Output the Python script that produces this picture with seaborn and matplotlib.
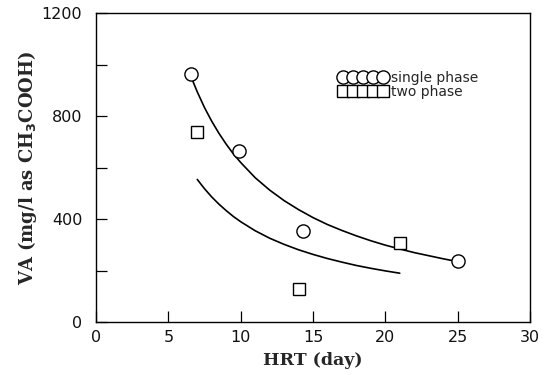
import matplotlib
matplotlib.use("Agg")
import matplotlib.pyplot as plt
import seaborn as sns
import pandas as pd
from matplotlib.ticker import MultipleLocator

# Measured volatile acid concentrations vs hydraulic retention time
single_hrt = [6.6, 9.9, 14.3, 25.0]
single_va = [965, 665, 352, 237]
two_hrt = [7.0, 14.0, 21.0]
two_va = [738, 128, 307]

# Trend curves traced along each data set
single_curve_hrt = [6.7, 7, 7.5, 8, 8.5, 9, 9.5, 10, 11, 12, 13, 14, 15, 16,
                    17, 18, 19, 20, 21, 22, 23, 24, 25]
single_curve_va = [935, 894, 833, 780, 733, 691, 653, 620, 561, 513, 472, 437,
                   406, 379, 356, 335, 316, 299, 284, 270, 258, 246, 235]
two_curve_hrt = [7, 7.5, 8, 8.5, 9, 9.5, 10, 11, 12, 13, 14, 15, 16, 17, 18,
                 19, 20, 21]
two_curve_va = [554, 518, 486, 458, 433, 410, 390, 355, 326, 302, 281, 263,
                247, 233, 220, 209, 199, 190]

x_ticks = [0, 5, 10, 15, 20, 25, 30]
y_ticks = [0, 400, 800, 1200]

sns.set_theme(style="ticks")
plt.rcParams["font.family"] = ["DejaVu Sans"]

fig = plt.figure(figsize=(5.52, 3.75), dpi=100)
ax = fig.add_axes([0.174, 0.141, 0.786, 0.824])

crv_single = pd.DataFrame({"HRT": single_curve_hrt, "VA": single_curve_va})
crv_two = pd.DataFrame({"HRT": two_curve_hrt, "VA": two_curve_va})

sns.lineplot(data=crv_single, x="HRT", y="VA", ax=ax, color="black",
             linewidth=1.2, sort=True, legend=False)
sns.lineplot(data=crv_two, x="HRT", y="VA", ax=ax, color="black",
             linewidth=1.2, sort=True, legend=False)

ax.plot(single_hrt, single_va, linestyle="none", marker="o", markersize=9.5,
        markerfacecolor="white", markeredgecolor="black", markeredgewidth=1.0,
        label="single phase", zorder=3)
ax.plot(two_hrt, two_va, linestyle="none", marker="s", markersize=8,
        markerfacecolor="white", markeredgecolor="black", markeredgewidth=1.0,
        label="two phase", zorder=3)

ax.set_xlim(0, 30)
ax.set_ylim(0, 1200)
ax.set_xticks(x_ticks)
ax.set_yticks(y_ticks)
ax.set_xticklabels([str(t) for t in x_ticks])
ax.set_yticklabels([str(t) for t in y_ticks])
ax.yaxis.set_minor_locator(MultipleLocator(200))
ax.tick_params(axis="both", which="both", direction="in", color="black",
               labelsize=11.5, labelcolor="#111111")
ax.tick_params(axis="both", which="major", length=8, width=0.9)
ax.tick_params(axis="y", which="minor", length=8, width=0.9)
ax.tick_params(axis="x", pad=6)
ax.tick_params(axis="y", pad=10)

for s in ax.spines.values():
    s.set_color("black")
    s.set_linewidth(1.0)
    s.set_visible(True)

ax.set_xlabel("HRT (day)", fontsize=12.5, fontweight="bold",
              family="DejaVu Serif", labelpad=5)
ax.set_ylabel(r"VA (mg/l as CH$_\mathbf{3}$COOH)", fontsize=13,
              fontweight="bold", family="DejaVu Serif", labelpad=2)

leg = ax.legend(loc="upper left", bbox_to_anchor=(0.546, 0.83), numpoints=5,
                frameon=False, handlelength=3.5, handletextpad=0.3,
                labelspacing=0.0, fontsize=10, markerscale=1.0,
                borderaxespad=0)

fig.savefig("out.png", dpi=100, facecolor="white")
